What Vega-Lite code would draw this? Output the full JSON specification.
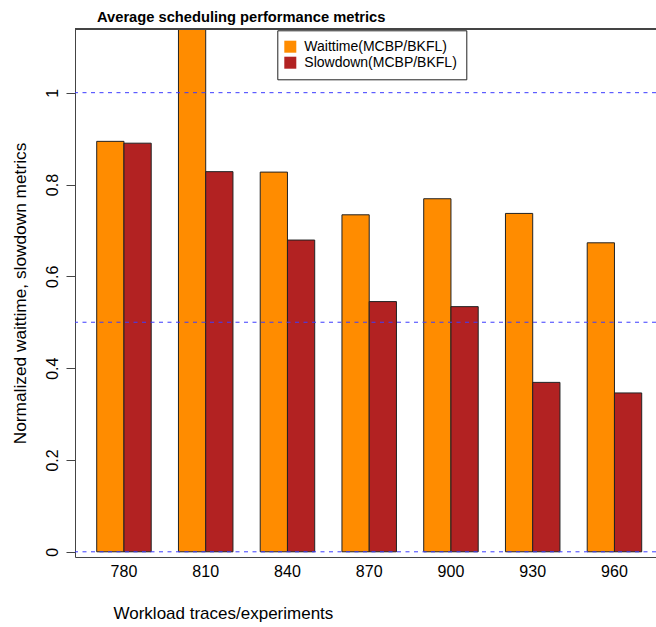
{
  "$schema": "https://vega.github.io/schema/vega-lite/v6.json",
  "width": 581,
  "height": 528,
  "autosize": {"type": "none"},
  "padding": {"left": 75, "top": 29, "right": 0, "bottom": 70},
  "background": "white",
  "config": {
    "view": {"stroke": null},
    "font": "Liberation Sans"
  },
  "title": {
    "text": "Average scheduling performance metrics",
    "anchor": "start",
    "frame": "group",
    "dx": 22,
    "dy": 16,
    "offset": 8,
    "baseline": "alphabetic",
    "fontSize": 14.7,
    "fontWeight": "bold",
    "font": "Liberation Sans",
    "color": "#000000"
  },
  "data": {
    "values": [
      {"trace": "780", "metric": "Waittime(MCBP/BKFL)", "value": 0.894},
      {"trace": "780", "metric": "Slowdown(MCBP/BKFL)", "value": 0.890},
      {"trace": "810", "metric": "Waittime(MCBP/BKFL)", "value": 1.25},
      {"trace": "810", "metric": "Slowdown(MCBP/BKFL)", "value": 0.828},
      {"trace": "840", "metric": "Waittime(MCBP/BKFL)", "value": 0.827},
      {"trace": "840", "metric": "Slowdown(MCBP/BKFL)", "value": 0.679},
      {"trace": "870", "metric": "Waittime(MCBP/BKFL)", "value": 0.734},
      {"trace": "870", "metric": "Slowdown(MCBP/BKFL)", "value": 0.545},
      {"trace": "900", "metric": "Waittime(MCBP/BKFL)", "value": 0.769},
      {"trace": "900", "metric": "Slowdown(MCBP/BKFL)", "value": 0.534},
      {"trace": "930", "metric": "Waittime(MCBP/BKFL)", "value": 0.737},
      {"trace": "930", "metric": "Slowdown(MCBP/BKFL)", "value": 0.369},
      {"trace": "960", "metric": "Waittime(MCBP/BKFL)", "value": 0.673},
      {"trace": "960", "metric": "Slowdown(MCBP/BKFL)", "value": 0.346}
    ]
  },
  "layer": [
    {
      "mark": {"type": "bar", "stroke": "#222222", "strokeWidth": 1, "clip": true},
      "encoding": {
        "x": {
          "field": "trace",
          "type": "ordinal",
          "scale": {"paddingInner": 0.3333, "paddingOuter": 0.2202, "align": 0.603, "round": false},
          "axis": {
            "title": "Workload traces/experiments",
            "titleFont": "Liberation Sans",
            "titleFontSize": 17,
            "titleFontWeight": "normal",
            "titleColor": "#000000",
            "titleX": 38,
            "titleY": 61,
            "titleAlign": "left",
            "titleAnchor": "start",
            "titleBaseline": "alphabetic",
            "labelAngle": 0,
            "labelFont": "Liberation Sans",
            "labelFontSize": 16,
            "labelColor": "#000000",
            "labelBaseline": "alphabetic",
            "labelPadding": 19.7,
            "ticks": false,
            "tickSize": 0,
            "domainColor": "#444444",
            "domainWidth": 1
          }
        },
        "xOffset": {
          "field": "metric",
          "type": "nominal",
          "sort": ["Waittime(MCBP/BKFL)", "Slowdown(MCBP/BKFL)"],
          "scale": {"paddingInner": 0, "paddingOuter": 0, "round": false}
        },
        "y": {
          "field": "value",
          "type": "quantitative",
          "scale": {"domain": [-0.01133, 1.1387], "nice": false, "zero": false},
          "axis": {
            "title": "Normalized waittime, slowdown metrics",
            "titleFont": "Liberation Sans",
            "titleFontSize": 17.3,
            "titleFontWeight": "normal",
            "titleColor": "#000000",
            "titleAngle": 270,
            "titleX": -50,
            "titleY": 264,
            "titleAlign": "center",
            "titleBaseline": "alphabetic",
            "values": [0, 0.2, 0.4, 0.6, 0.8, 1],
            "format": ".1~f",
            "labelFont": "Liberation Sans",
            "labelFontSize": 16,
            "labelColor": "#000000",
            "labelAngle": 270,
            "labelAlign": "center",
            "labelBaseline": "alphabetic",
            "labelPadding": 8.7,
            "tickSize": 9,
            "tickColor": "#444444",
            "domainColor": "#444444",
            "grid": false
          }
        },
        "y2": {"datum": 0},
        "color": {
          "field": "metric",
          "type": "nominal",
          "sort": ["Waittime(MCBP/BKFL)", "Slowdown(MCBP/BKFL)"],
          "scale": {"domain": ["Waittime(MCBP/BKFL)", "Slowdown(MCBP/BKFL)"], "range": ["#FF8C00", "#B22222"]},
          "legend": {
            "orient": "none",
            "legendX": 202.3,
            "legendY": 1.3,
            "title": null,
            "direction": "vertical",
            "symbolType": "square",
            "symbolSize": 144,
            "symbolStrokeWidth": 0,
            "symbolOffset": -3.4,
            "labelFont": "Liberation Sans",
            "labelFontSize": 14,
            "labelColor": "#000000",
            "labelOffset": 7,
            "labelLimit": 0,
            "padding": 9.4,
            "rowPadding": 2,
            "strokeColor": "#222222",
            "fillColor": "#ffffff",
            "encode": {"symbols": {"update": {"stroke": {"value": "transparent"}}}}
          }
        }
      }
    },
    {
      "data": {"values": [{"ref": 0}, {"ref": 0.5}, {"ref": 1}]},
      "mark": {"type": "rule", "color": "#3c3cff", "strokeWidth": 1, "strokeDash": [4, 4.5]},
      "encoding": {"y": {"field": "ref", "type": "quantitative"}}
    },
    {
      "mark": {"type": "rule", "color": "#444444", "strokeWidth": 1},
      "encoding": {"y": {"datum": 1.1387}}
    }
  ]
}
